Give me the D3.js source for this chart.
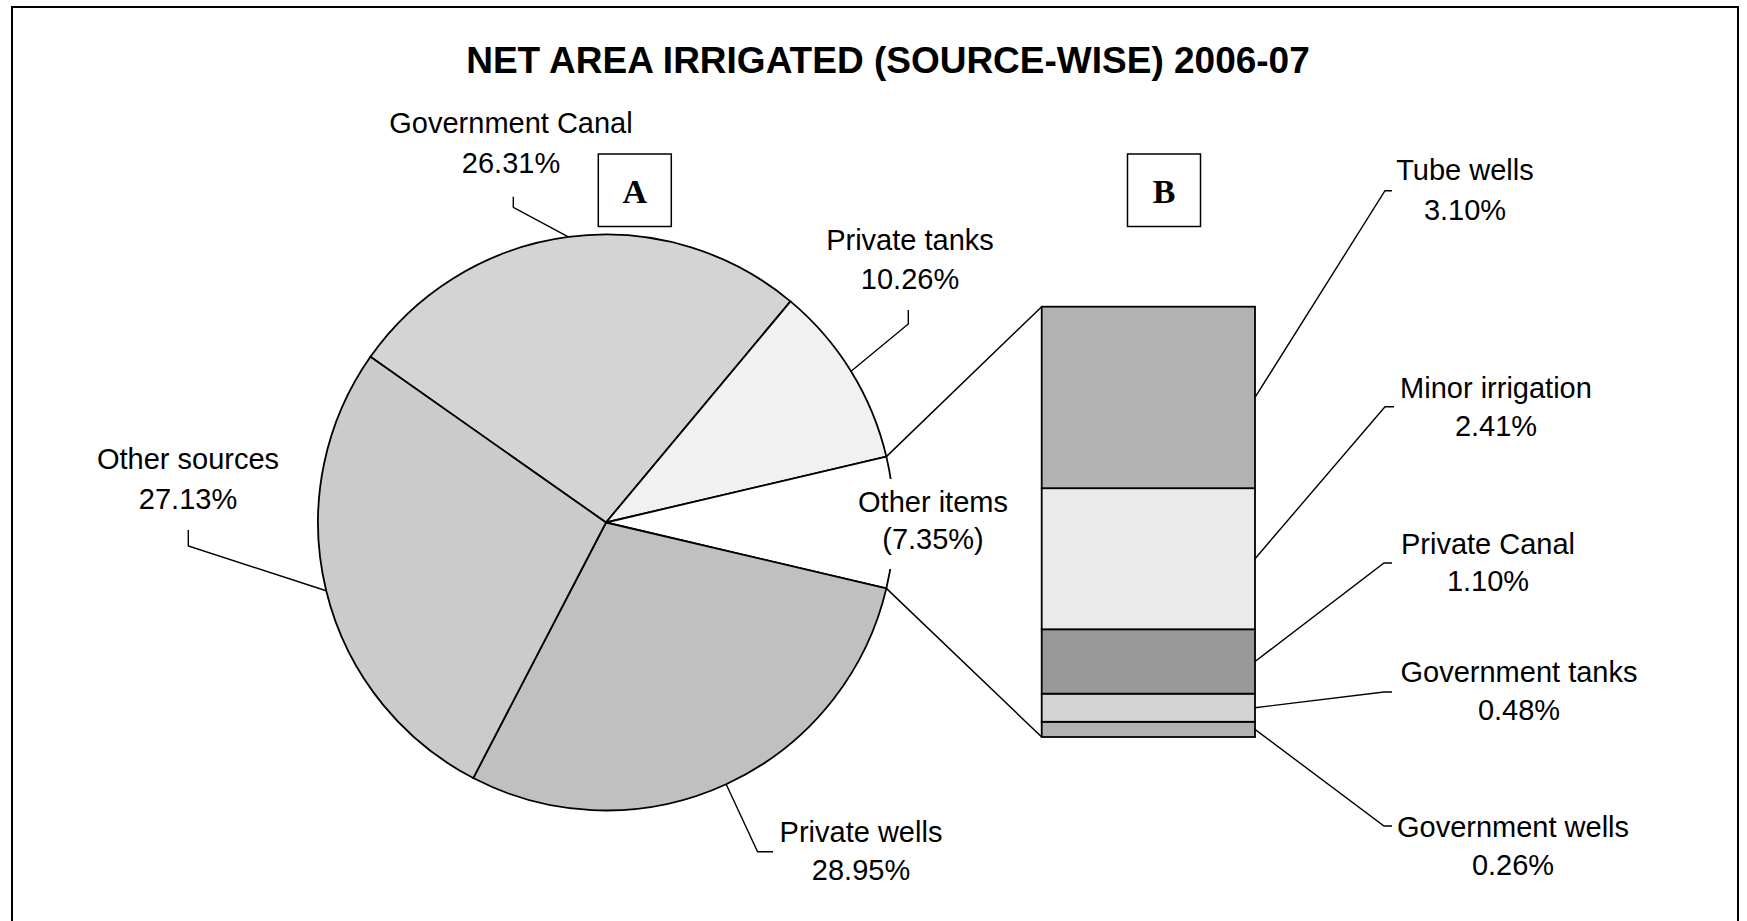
<!DOCTYPE html>
<html>
<head>
<meta charset="utf-8">
<script src="https://cdn.jsdelivr.net/npm/d3@7"></script>
<style>
  html, body { margin: 0; padding: 0; background: #ffffff; }
  svg { display: block; }
  text { font-family: "Liberation Sans", Arial, sans-serif; fill: #000; }
</style>
</head>
<body>
<script>
// ---------- DATA ----------
const chartTitle = "NET AREA IRRIGATED (SOURCE-WISE) 2006-07";
const pieCategories = ["Government Canal", "Private tanks", "Other items", "Private wells", "Other sources"];
const pieValues = [26.31, 10.26, 7.35, 28.95, 27.13];
const pieColors = ["#d4d4d4", "#f1f1f1", "#ffffff", "#c0c0c0", "#cbcbcb"];
const barCategories = ["Tube wells", "Minor irrigation", "Private Canal", "Government tanks", "Government wells"];
const barValues = [3.10, 2.41, 1.10, 0.48, 0.26];
const barColors = ["#b2b2b2", "#eaeaea", "#999999", "#d4d4d4", "#b2b2b2"];
const panelLetters = ["A", "B"];

// ---------- LAYOUT ----------
const W = 1747, H = 921;
const svg = d3.select("body").append("svg").attr("width", W).attr("height", H);

svg.append("rect").attr("x", 12).attr("y", 7).attr("width", 1726).attr("height", 1000)
  .attr("fill", "#fff").attr("stroke", "#000").attr("stroke-width", 2);

svg.append("text").attr("x", 888).attr("y", 73).attr("text-anchor", "middle")
  .style("font-size", "37px").style("font-weight", "bold").text(chartTitle);

const fmt = v => d3.format(".2f")(v) + "%";

// ---------- PIE ----------
const cx = 606, cy = 522.5, R = 288;
const otherIdx = pieCategories.indexOf("Other items");
const total = d3.sum(pieValues);
const before = d3.sum(pieValues.slice(0, otherIdx));
const startA = Math.PI / 2 - 2 * Math.PI * (before + pieValues[otherIdx] / 2) / total;
const pie = d3.pie().sort(null).value(d => d).startAngle(startA).endAngle(startA + 2 * Math.PI);
const arcs = pie(pieValues);
const arc = d3.arc().innerRadius(0).outerRadius(R);
const g = svg.append("g").attr("transform", `translate(${cx},${cy})`);
g.selectAll("path.slice").data(arcs).join("path").attr("class", "slice")
  .attr("d", arc).attr("fill", (d, i) => pieColors[i])
  .attr("stroke", "#000").attr("stroke-width", 1.8).attr("stroke-linejoin", "round");

const rimPt = a => [cx + R * Math.sin(a), cy - R * Math.cos(a)];
const mid = d => (d.startAngle + d.endAngle) / 2;

// pie label layout (text centre x, first baseline, second baseline, leader elbow points)
const pieLabelLayout = {
  "Government Canal": { x: 511, y1: 133, y2: 173, leader: [[513.3, 207.3], [513.3, 196.7]] },
  "Private tanks": { x: 910, y1: 250, y2: 289, leader: [[908.3, 324], [908.3, 310]] },
  "Other items": { x: 933, y1: 512, y2: 549, leader: null },
  "Private wells": { x: 861, y1: 842, y2: 880, leader: [[757.6, 851.7], [773, 851.7]] },
  "Other sources": { x: 188, y1: 469, y2: 509, leader: [[188.3, 546], [188.3, 530]] }
};

const line = d3.line();
const oArc = arcs[otherIdx];

// ---------- BAR ----------
const barX0 = 1041.7, barX1 = 1255;
const y = d3.scaleLinear().domain([0, d3.sum(barValues)]).range([737, 306.7]);
// stacked from bottom: last category at bottom
const stackData = [];
let acc = 0;
for (let i = barValues.length - 1; i >= 0; i--) {
  stackData.push({ i, y0: acc, y1: acc + barValues[i] });
  acc += barValues[i];
}
svg.append("path").attr("d", line([rimPt(oArc.startAngle), [barX0, y(acc)]]))
  .attr("fill", "none").attr("stroke", "#000").attr("stroke-width", 1.5);
svg.append("path").attr("d", line([rimPt(oArc.endAngle), [barX0, y(0)]]))
  .attr("fill", "none").attr("stroke", "#000").attr("stroke-width", 1.5);

svg.selectAll("rect.seg").data(stackData).join("rect").attr("class", "seg")
  .attr("x", barX0).attr("width", barX1 - barX0)
  .attr("y", d => y(d.y1)).attr("height", d => y(d.y0) - y(d.y1))
  .attr("fill", d => barColors[d.i]).attr("stroke", "#000").attr("stroke-width", 1.8);

// pie labels
pieCategories.forEach((c, i) => {
  const L = pieLabelLayout[c];
  if (L.leader) {
    const pts = [rimPt(mid(arcs[i])), ...L.leader];
    svg.append("path").attr("d", line(pts)).attr("fill", "none")
      .attr("stroke", "#000").attr("stroke-width", 1.4);
  }
  if (c === "Other items") {
    svg.append("rect").attr("x", 858).attr("y", 479).attr("width", 148).attr("height", 90).attr("fill", "#fff");
  }
  const t = svg.append("text").attr("text-anchor", "middle").style("font-size", "29px");
  t.append("tspan").attr("x", L.x).attr("y", L.y1).text(c);
  t.append("tspan").attr("x", L.x).attr("y", L.y2)
    .text(c === "Other items" ? "(" + pieValues[i].toFixed(2) + "%)" : fmt(pieValues[i]));
});

// bar labels
const barLabelLayout = {
  "Tube wells": { x: 1465, y1: 180, y2: 220, leader: [[1385, 190.7], [1392, 190.7]] },
  "Minor irrigation": { x: 1496, y1: 398, y2: 436, leader: [[1385, 406.7], [1394, 406.7]] },
  "Private Canal": { x: 1488, y1: 554, y2: 591, leader: [[1384, 563], [1392, 563]] },
  "Government tanks": { x: 1519, y1: 682, y2: 720, leader: [[1384, 692], [1392, 692]] },
  "Government wells": { x: 1513, y1: 837, y2: 875, leader: [[1384, 826], [1392, 826]] }
};
stackData.forEach(d => {
  const c = barCategories[d.i];
  const L = barLabelLayout[c];
  const pts = [[barX1, y((d.y0 + d.y1) / 2)], ...L.leader];
  svg.append("path").attr("d", line(pts)).attr("fill", "none")
    .attr("stroke", "#000").attr("stroke-width", 1.4);
  const t = svg.append("text").attr("text-anchor", "middle").style("font-size", "29px");
  t.append("tspan").attr("x", L.x).attr("y", L.y1).text(c);
  t.append("tspan").attr("x", L.x).attr("y", L.y2).text(fmt(barValues[d.i]));
});

// panel boxes
const boxes = [{ x: 598.3, letter: panelLetters[0] }, { x: 1127.5, letter: panelLetters[1] }];
boxes.forEach(b => {
  svg.append("rect").attr("x", b.x).attr("y", 154).attr("width", 73).attr("height", 72.5)
    .attr("fill", "#fff").attr("stroke", "#000").attr("stroke-width", 1.5);
  svg.append("text").attr("x", b.x + 36.5).attr("y", 203).attr("text-anchor", "middle")
    .style("font-family", "'Liberation Serif', 'Times New Roman', serif")
    .style("font-weight", "bold").style("font-size", "34px").text(b.letter);
});
</script>
</body>
</html>
